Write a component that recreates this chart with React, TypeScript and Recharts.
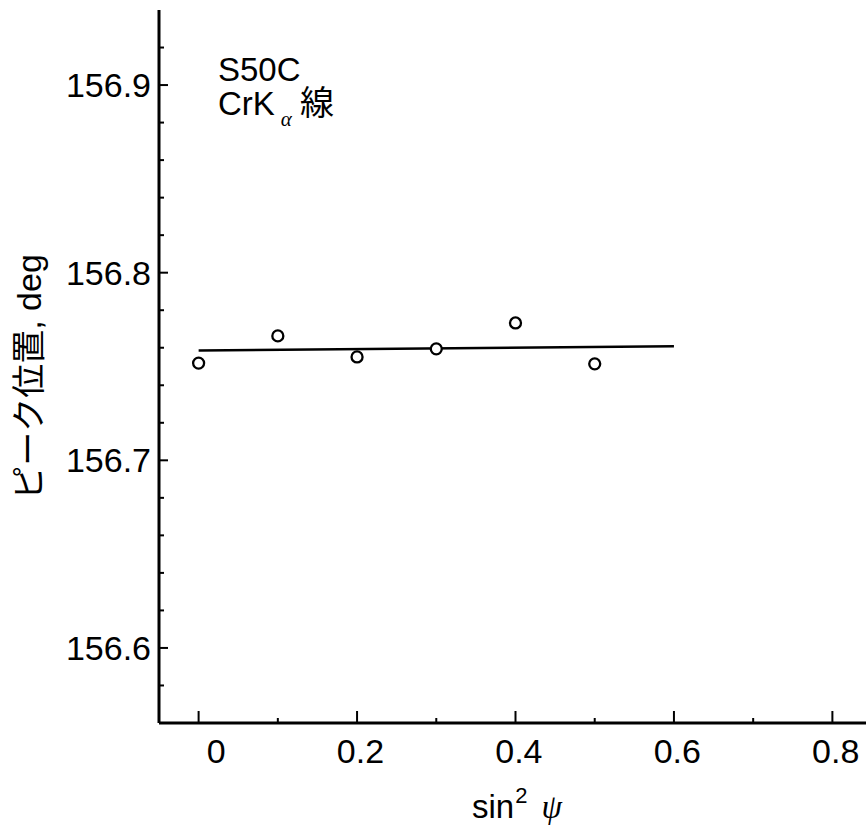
import React from 'react';
import { ScatterChart, Scatter, XAxis, YAxis } from 'recharts';

// measured points: sin^2(psi) vs peak position (deg)
const sin2psi = [0, 0.1, 0.2, 0.3, 0.4, 0.5];
const peakPos = [156.7518, 156.7663, 156.7551, 156.7594, 156.7732, 156.7514];
// fitted straight line (end points)
const fitX = [0, 0.6];
const fitY = [156.7585, 156.7608];

const xTicks = [0, 0.1, 0.2, 0.3, 0.4, 0.5, 0.6, 0.7, 0.8];
const xMajor = [0, 0.2, 0.4, 0.6, 0.8];
const xTickLabels = ['0', '0.2', '0.4', '0.6', '0.8'];
const yTicks = [
  156.58, 156.6, 156.62, 156.64, 156.66, 156.68, 156.7, 156.72, 156.74, 156.76,
  156.78, 156.8, 156.82, 156.84, 156.86, 156.88, 156.9, 156.92,
];
const yMajor = [156.6, 156.7, 156.8, 156.9];
const yTickLabels = ['156.6', '156.7', '156.8', '156.9'];

const points = sin2psi.map((x, i) => ({ x, y: peakPos[i] }));
const fitLine = fitX.map((x, i) => ({ x, y: fitY[i] }));

const FONT = "'Liberation Sans', Arial, 'Noto Sans CJK JP', sans-serif";

const near = (a: number, b: number) => Math.abs(a - b) < 1e-6;

const YTick = (props: any) => {
  const { x, y, payload } = props;
  const v = payload.value;
  const mi = yMajor.findIndex((m) => near(m, v));
  const major = mi >= 0;
  return (
    <g>
      <line x1={x} y1={y} x2={x + (major ? 9 : 5)} y2={y} stroke="#000" strokeWidth={2} />
      {major && (
        <text x={x - 8} y={y + 12} textAnchor="end" fontSize={34} fontFamily={FONT} fill="#000">
          {yTickLabels[mi]}
        </text>
      )}
    </g>
  );
};

const XTick = (props: any) => {
  const { x, y, payload } = props;
  const v = payload.value;
  const mi = xMajor.findIndex((m) => near(m, v));
  const major = mi >= 0;
  return (
    <g>
      <line x1={x} y1={y} x2={x} y2={y - (major ? 12 : 5)} stroke="#000" strokeWidth={2} />
      {major && (
        <text x={x + 27} y={y + 39.5} textAnchor="end" fontSize={34} fontFamily={FONT} fill="#000">
          {xTickLabels[mi]}
        </text>
      )}
    </g>
  );
};

const Marker = (props: any) => {
  const { cx, cy } = props;
  return <circle cx={cx} cy={cy} r={5.5} fill="#fff" stroke="#000" strokeWidth={2.3} />;
};

const NoMarker = () => <g />;

export default function App() {
  return (
    <div
      style={{
        position: 'absolute',
        left: 0,
        top: 0,
        width: 866,
        height: 827,
        overflow: 'hidden',
        background: '#fff',
      }}
    >
      <ScatterChart width={900} height={827} margin={{ top: 10, right: 28, bottom: 0, left: 0 }}>
        <XAxis
          type="number"
          dataKey="x"
          domain={[-0.05, 0.85]}
          ticks={xTicks}
          interval={0}
          height={104}
          tickSize={0}
          tickMargin={0}
          tickLine={false}
          axisLine={{ stroke: '#000', strokeWidth: 3 }}
          tick={<XTick />}
          allowDataOverflow
        />
        <XAxis
          xAxisId="top"
          orientation="top"
          type="number"
          domain={[-0.05, 0.85]}
          height={0}
          tick={false}
          tickLine={false}
          axisLine={{ stroke: '#000', strokeWidth: 3 }}
        />
        <YAxis
          type="number"
          dataKey="y"
          domain={[156.56, 156.94]}
          ticks={yTicks}
          interval={0}
          width={159}
          tickSize={0}
          tickMargin={0}
          tickLine={false}
          axisLine={{ stroke: '#000', strokeWidth: 3 }}
          tick={<YTick />}
          allowDataOverflow
        />
        <Scatter
          data={fitLine}
          line={{ stroke: '#000', strokeWidth: 2.4 }}
          shape={<NoMarker />}
          isAnimationActive={false}
        />
        <Scatter data={points} shape={<Marker />} isAnimationActive={false} />
      </ScatterChart>
      <svg
        width={866}
        height={827}
        style={{ position: 'absolute', left: 0, top: 0, pointerEvents: 'none' }}
      >
        <text x={218} y={81} fontSize={33} fontFamily={FONT} fill="#000">
          S50C
        </text>
        <text x={218} y={115} fontSize={33} fontFamily={FONT} fill="#000">
          CrK
          <tspan dx={6} dy={11} fontSize={21} fontStyle="italic" fontFamily="'Liberation Serif', serif">
            α
          </tspan>
          <tspan dx={8} dy={-11} fontSize={34} fontFamily="'Noto Sans CJK JP', sans-serif">
            線
          </tspan>
        </text>
        <text
          x={41}
          y={377}
          transform="rotate(-90 41 377)"
          textAnchor="middle"
          fontSize={34}
          fontFamily={FONT}
          fill="#000"
        >
          ピーク位置, deg
        </text>
        <text x={472} y={818} fontSize={33} fontFamily={FONT} fill="#000">
          sin
          <tspan dx={1} dy={-15} fontSize={22}>
            2
          </tspan>
          <tspan dx={14} dy={15} fontSize={33} fontStyle="italic" fontFamily="'Liberation Serif', serif">
            ψ
          </tspan>
        </text>
      </svg>
    </div>
  );
}
